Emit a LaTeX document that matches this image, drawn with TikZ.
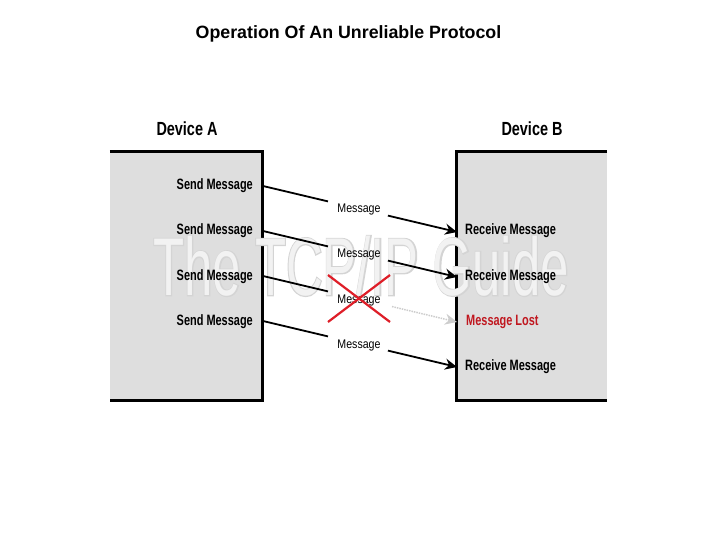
\documentclass[tikz,border=0pt]{standalone}
\usepackage{fontspec}
\setmainfont{Liberation Sans}
\newfontfamily\narfont[FakeStretch=0.73]{Liberation Sans}
\newfontfamily\devfont[FakeStretch=0.76]{Liberation Sans}
\newfontfamily\msgfont[FakeStretch=0.85]{Liberation Sans}
\newfontfamily\wmfont[FakeStretch=0.62]{Liberation Sans}
\newfontfamily\wmoutfont[FakeStretch=0.62,FakeBold=2.5]{Liberation Sans}
\usetikzlibrary{arrows.meta,calc}
\definecolor{boxgray}{RGB}{222,222,222}
\definecolor{lostred}{RGB}{192,24,32}
\definecolor{xred}{RGB}{222,30,40}
\definecolor{wmfill}{RGB}{242,242,242}
\definecolor{wmline}{RGB}{212,212,212}
\definecolor{dotgray}{RGB}{205,205,205}
\tikzset{
  devbox/.style={fill=boxgray, draw=none, inner sep=0pt},
  border/.style={line width=3pt},
  devlabel/.style={anchor=base, inner sep=0pt, font=\devfont\bfseries\fontsize{19}{21}\selectfont},
  sendlabel/.style={anchor=base east, inner sep=0pt, font=\narfont\bfseries\fontsize{15}{17}\selectfont},
  recvlabel/.style={anchor=base west, inner sep=0pt, font=\narfont\bfseries\fontsize{15}{17}\selectfont},
  msglabel/.style={anchor=base, inner sep=0pt, font=\msgfont\fontsize{12.5}{14}\selectfont},
  wmark/.style={anchor=center, inner sep=0pt},
  msgline/.style={line width=1.8pt},
  msgarrow/.style={line width=1.8pt, -{Stealth[length=12pt,width=11pt]}},
  lostarrow/.style={line width=1.5pt, dotgray, densely dotted, -{Stealth[length=12pt,width=11pt,fill=dotgray]}},
  cross/.style={xred, line width=2.2pt},
}
\begin{document}
\begin{tikzpicture}[x=1pt,y=-1pt]
\useasboundingbox (0,0) rectangle (720,540);
% title
\node[anchor=base, inner sep=0pt, font=\bfseries\fontsize{17.8}{20}\selectfont] (title) at (348.5,39) {Operation Of An Unreliable Protocol};
% device boxes
\node[devbox, minimum width=152pt, minimum height=248pt] (devA) at (186,276) {};
\node[devbox, minimum width=150pt, minimum height=248pt] (devB) at (532,276) {};
\draw[border] (devA.north west) -- (devA.north east) -- (devA.south east) -- (devA.south west);
\draw[border] (devB.north east) -- (devB.north west) -- (devB.south west) -- (devB.south east);
\node[devlabel] (labA) at (187,136) {Device A};
\node[devlabel] (labB) at (532,136) {Device B};
% watermark (outline + fill)
\node[wmark, text=wmline, font=\wmoutfont\fontsize{82}{90}\selectfont] (wmo) at (361,266) {The TCP/IP Guide};
\node[wmark, text=wmfill, font=\wmfont\fontsize{82}{90}\selectfont] (wm) at (361,266) {The TCP/IP Guide};
% end points
\foreach \k in {1,...,4} {
  \coordinate (s\k) at (263,{186+45*(\k-1)});
  \coordinate (r\k) at (457,{232+45*(\k-1)});
}
% send labels
\node[sendlabel] (send1) at (253,190) {Send Message};
\node[sendlabel] (send2) at (253,235) {Send Message};
\node[sendlabel] (send3) at (253,280) {Send Message};
\node[sendlabel] (send4) at (253,325) {Send Message};
% receive labels
\node[recvlabel] (recv1) at (465,235) {Receive Message};
\node[recvlabel] (recv2) at (465,280) {Receive Message};
\node[recvlabel, text=lostred] (lost) at (466,325) {Message Lost};
\node[recvlabel] (recv4) at (465,370) {Receive Message};
% message labels
\node[msglabel] (m1) at (359,213) {Message};
\node[msglabel] (m2) at (359,258) {Message};
\node[msglabel] (m3) at (359,303) {Message};
\node[msglabel] (m4) at (359,348) {Message};
% connectors
\foreach \k in {1,2,4} {
  \draw[msgline] (s\k) -- ($(s\k)!0.335!(r\k)$);
  \draw[msgarrow] ($(s\k)!0.644!(r\k)$) -- (r\k);
}
\draw[msgline] (s3) -- ($(s3)!0.335!(r3)$);
\draw[lostarrow] ($(s3)!0.665!(r3)$) -- (r3);
% red cross
\coordinate (xa) at (328,275);
\coordinate (xb) at (390,322);
\coordinate (xc) at (390,275);
\coordinate (xd) at (328,322);
\draw[cross] (xa) -- (xb);
\draw[cross] (xc) -- (xd);
\end{tikzpicture}
\end{document}
